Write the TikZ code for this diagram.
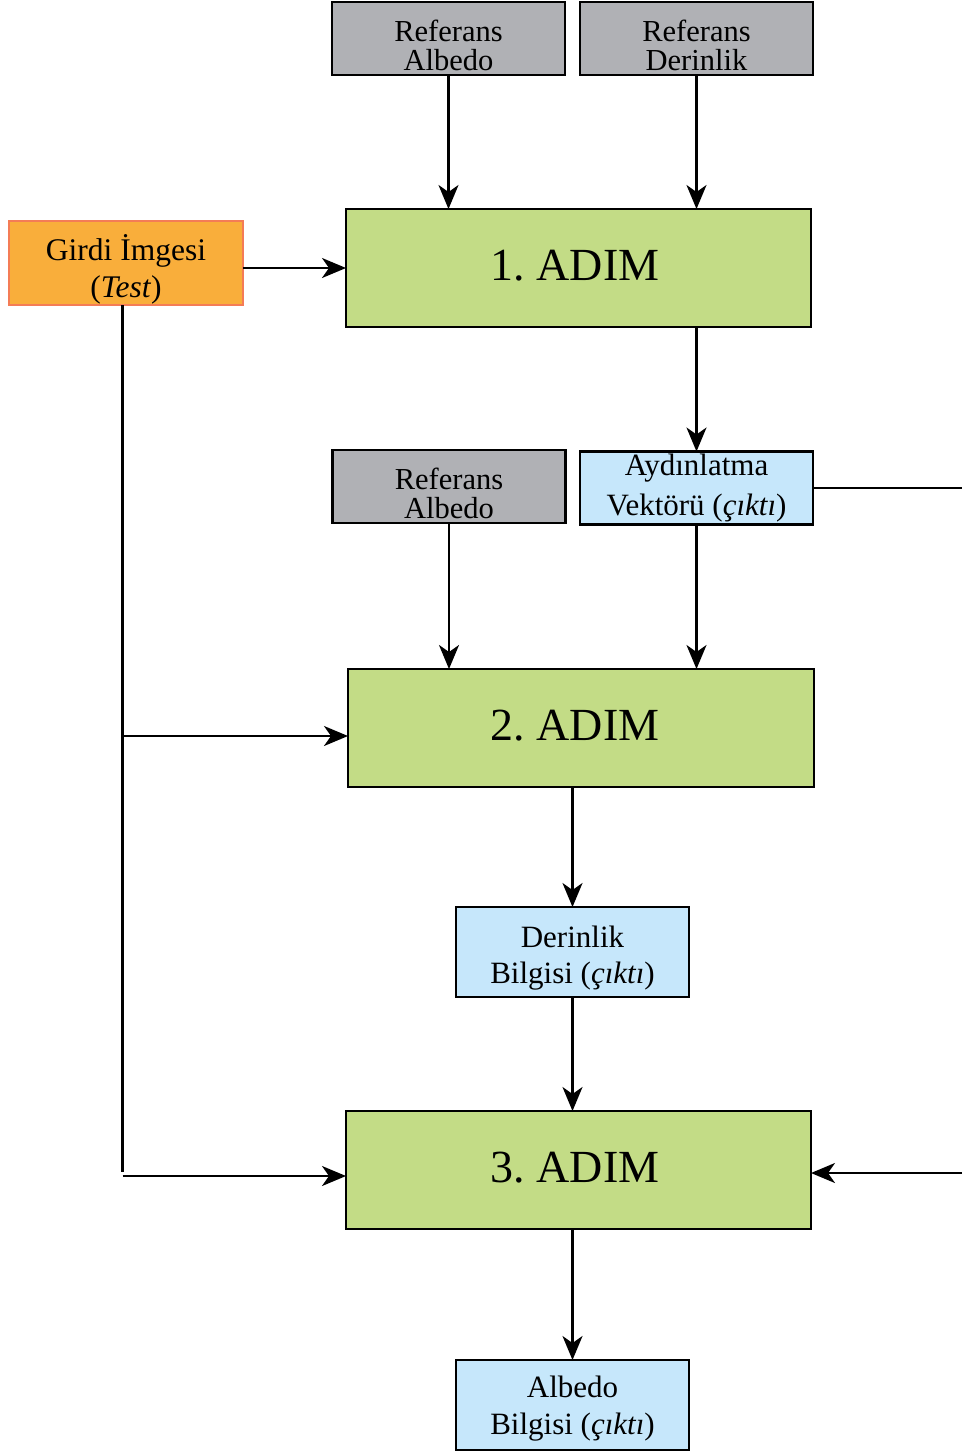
\documentclass[tikz,border=0pt]{standalone}
\usepackage{fontspec}
\setmainfont{Liberation Serif}
\usetikzlibrary{arrows.meta}
\definecolor{refgray}{RGB}{176,177,181}
\definecolor{stepgreen}{RGB}{195,220,134}
\definecolor{outblue}{RGB}{198,231,251}
\definecolor{inorange}{RGB}{249,174,59}
\definecolor{inborder}{RGB}{244,124,86}
\begin{document}
\begin{tikzpicture}[x=1pt,y=-1pt,
  box/.style={draw=black, line width=2.3pt, inner sep=0pt, outer sep=0pt},
  refbox/.style={box, fill=refgray, minimum width=233pt, minimum height=73pt},
  stepbox/.style={box, fill=stepgreen, minimum width=465pt, minimum height=118pt},
  outbox/.style={box, fill=outblue, minimum width=233pt},
  inbox/.style={box, draw=inborder, fill=inorange, minimum width=234pt, minimum height=84pt},
  txt/.style={inner sep=0pt, outer sep=0pt, anchor=base, font=\fontsize{30.5}{32}\selectfont},
  otxt/.style={txt, font=\fontsize{31}{32}\selectfont},
  big/.style={inner sep=0pt, outer sep=0pt, anchor=base, font=\fontsize{46}{46}\selectfont},
  conn/.style={line width=2.2pt, draw=black},
  arr/.style={conn, -{Stealth[length=24pt, width=20pt, inset=7pt]}}]
\useasboundingbox (0,0) rectangle (962,1452);

% boxes
\node[refbox] (ra1) at (448.5,38.5) {};
\node[refbox] (rd) at (696.5,38.5) {};
\node[inbox] (girdi) at (126,263) {};
\node[stepbox] (adim1) at (578.5,268) {};
\node[refbox] (ra2) at (449,486.5) {};
\node[outbox, minimum height=73pt] (ayd) at (696.5,488) {};
\node[stepbox, minimum width=466pt] (adim2) at (581,728) {};
\node[outbox, minimum height=90pt] (der) at (572.5,952) {};
\node[stepbox] (adim3) at (578.5,1170) {};
\node[outbox, minimum height=90pt] (alb) at (572.5,1405) {};

% texts
\node[txt] (ra1a) at (448.5,41.5) {Referans};
\node[txt] (ra1b) at (448.5,70) {Albedo};
\node[txt] (rda) at (696.5,41.5) {Referans};
\node[txt] (rdb) at (696.5,70) {Derinlik};
\node[txt, font=\fontsize{31.5}{32}\selectfont] (gia) at (126,260) {Girdi İmgesi};
\node[txt, font=\fontsize{31.5}{32}\selectfont] (gib) at (126,297) {(\textit{Test})};
\node[big] (a1t) at (575,280) {1.\ ADIM};
\node[txt] (ra2a) at (449,489.5) {Referans};
\node[txt] (ra2b) at (449,518) {Albedo};
\node[otxt] (ayda) at (696.5,475) {Aydınlatma};
\node[otxt] (aydb) at (696.5,515) {Vektörü (\textit{çıktı})};
\node[big] (a2t) at (575,740) {2.\ ADIM};
\node[otxt] (dera) at (572.5,947) {Derinlik};
\node[otxt] (derb) at (572.5,983) {Bilgisi (\textit{çıktı})};
\node[big] (a3t) at (575,1182) {3.\ ADIM};
\node[otxt] (alba) at (572.5,1397) {Albedo};
\node[otxt] (albb) at (572.5,1434) {Bilgisi (\textit{çıktı})};

% helper coordinates
\coordinate (ttop) at (122.5,305);
\coordinate (tbot) at (122.5,1172);
\coordinate (j2) at (122.5,736);
\coordinate (j3) at (122.5,1176);
\coordinate (r1) at (962,488);
\coordinate (r3) at (962,1173);

% connectors
\draw[arr] (ra1.south) -- (ra1.south |- adim1.north);
\draw[arr] (rd.south) -- (rd.south |- adim1.north);
\draw[arr] (girdi.east |- adim1.west) -- (adim1.west);
\draw[arr] (ayd.north |- adim1.south) -- (ayd.north);
\draw[arr] (ra2.south) -- (ra2.south |- adim2.north);
\draw[arr] (ayd.south) -- (ayd.south |- adim2.north);
\draw[conn] (ttop) -- (tbot);
\draw[arr] (j2) -- (j2 -| adim2.west);
\draw[arr] (j3) -- (j3 -| adim3.west);
\draw[conn] (ayd.east) -- (ayd.east -| r1);
\draw[arr] (r3) -- (r3 -| adim3.east);
\draw[arr] (der.north |- adim2.south) -- (der.north);
\draw[arr] (der.south) -- (der.south |- adim3.north);
\draw[arr] (alb.north |- adim3.south) -- (alb.north);
\end{tikzpicture}
\end{document}
